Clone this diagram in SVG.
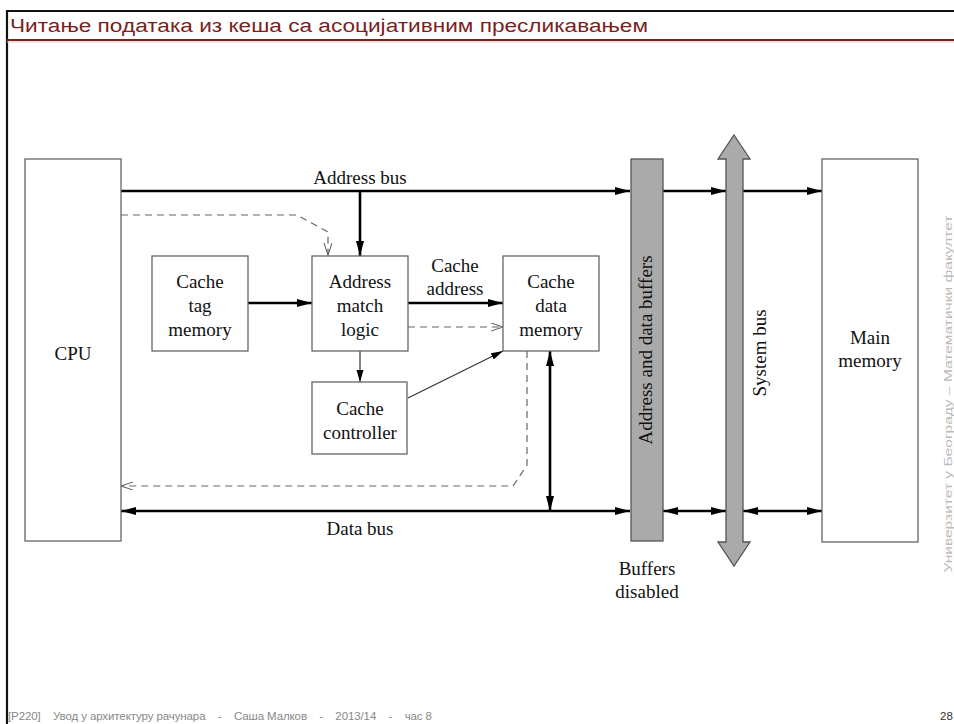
<svg xmlns="http://www.w3.org/2000/svg" width="954" height="724" viewBox="0 0 954 724">
<style>
.box{fill:#fff;stroke:#666;stroke-width:1.3}
.bar{fill:#aaa;stroke:#555;stroke-width:1.3}
.t{font-family:"Liberation Serif","Times New Roman",serif;font-size:19px;fill:#111;text-anchor:middle}
.thick{fill:none;stroke:#000;stroke-width:2.6}
.thin{fill:none;stroke:#333;stroke-width:1.2}
.dash{fill:none;stroke:#666;stroke-width:1.2;stroke-dasharray:7 5}
.hdr{font-family:"Liberation Sans","DejaVu Sans",sans-serif}
</style>
<defs>
<marker id="ah" markerUnits="userSpaceOnUse" markerWidth="16" markerHeight="10" refX="15" refY="4" orient="auto-start-reverse">
<path d="M0,0 L15,4 L0,8 z" fill="#000"/>
</marker>
<marker id="ahs" markerUnits="userSpaceOnUse" markerWidth="14" markerHeight="10" refX="12" refY="3.5" orient="auto">
<path d="M0,0 L12,3.5 L0,7 z" fill="#000"/>
</marker>
<marker id="ao" markerUnits="userSpaceOnUse" markerWidth="14" markerHeight="12" refX="12" refY="4" orient="auto">
<path d="M0,0 L12,4 L0,8" fill="none" stroke="#666" stroke-width="1.1"/>
</marker>
</defs>
<rect x="0" y="0" width="954" height="724" fill="#fff"/>
<g id="frame">
<path d="M7,724 V11 H954" fill="none" stroke="#111" stroke-width="2.2"/>
<line x1="7" y1="40" x2="954" y2="40" stroke="#7b1f1f" stroke-width="2"/>
<line x1="7" y1="42" x2="954" y2="42" stroke="#e8c8c8" stroke-width="1"/>
<text class="hdr" x="10" y="32" font-size="18" fill="#7b1f1f" textLength="638" lengthAdjust="spacingAndGlyphs">Читање података из кеша са асоцијативним пресликавањем</text>
<text class="hdr" x="8" y="720" font-size="11.5" fill="#888" textLength="424" lengthAdjust="spacing" xml:space="preserve">[P220]    Увод у архитектуру рачунара    -    Саша Малков    -    2013/14    -    час 8</text>
<text class="hdr" x="940" y="720" font-size="11.5" fill="#333">28</text>
<text class="hdr" transform="translate(952,394) rotate(-90)" font-size="11" fill="#bbb" text-anchor="middle" textLength="357" lengthAdjust="spacingAndGlyphs">Универзитет у Београду – Математички факултет</text>
</g>
<g id="connectors">
<line class="thick" x1="121" y1="191" x2="630" y2="191" marker-end="url(#ah)"/>
<line class="thick" x1="360" y1="191" x2="360" y2="256" marker-end="url(#ah)"/>
<line class="thick" x1="663" y1="191" x2="726" y2="191" marker-end="url(#ah)"/>
<line class="thick" x1="743" y1="191" x2="822" y2="191" marker-end="url(#ah)"/>
<line class="thick" x1="248" y1="303" x2="312" y2="303" marker-end="url(#ah)"/>
<line class="thick" x1="408" y1="303" x2="503" y2="303" marker-end="url(#ah)"/>
<line class="dash" x1="408" y1="327" x2="503" y2="327" marker-end="url(#ao)"/>
<path class="dash" d="M121,215 H297 L328,232 V255" marker-end="url(#ao)"/>
<line class="thin" x1="360" y1="351" x2="360" y2="382" marker-end="url(#ahs)"/>
<line class="thin" x1="408" y1="398" x2="503" y2="351" marker-end="url(#ahs)"/>
<path class="dash" d="M527,351 V465 L513,486 H121" marker-end="url(#ao)"/>
<line class="thick" x1="121" y1="511" x2="630" y2="511" marker-start="url(#ah)" marker-end="url(#ah)"/>
<line class="thick" x1="550" y1="351" x2="550" y2="511" marker-start="url(#ah)" marker-end="url(#ah)"/>
<line class="thick" x1="663" y1="511" x2="726" y2="511" marker-start="url(#ah)" marker-end="url(#ah)"/>
<line class="thick" x1="743" y1="511" x2="822" y2="511" marker-start="url(#ah)" marker-end="url(#ah)"/>
<text class="t" x="360" y="184">Address bus</text>
<text class="t" x="455" y="272">Cache</text>
<text class="t" x="455" y="295">address</text>
<text class="t" x="360" y="535">Data bus</text>
</g>
<g id="cpu">
<rect class="box" x="25" y="159" width="96" height="382"/>
<text class="t" x="73" y="360">CPU</text>
</g>
<g id="tag">
<rect class="box" x="152" y="256" width="96" height="95"/>
<text class="t" x="200" y="288">Cache</text>
<text class="t" x="200" y="312">tag</text>
<text class="t" x="200" y="336">memory</text>
</g>
<g id="match">
<rect class="box" x="312" y="256" width="96" height="95"/>
<text class="t" x="360" y="288">Address</text>
<text class="t" x="360" y="312">match</text>
<text class="t" x="360" y="336">logic</text>
</g>
<g id="data">
<rect class="box" x="503" y="256" width="96" height="95"/>
<text class="t" x="551" y="288">Cache</text>
<text class="t" x="551" y="312">data</text>
<text class="t" x="551" y="336">memory</text>
</g>
<g id="controller">
<rect class="box" x="312" y="382" width="95" height="72"/>
<text class="t" x="360" y="415">Cache</text>
<text class="t" x="360" y="439">controller</text>
</g>
<g id="buffers">
<rect class="bar" x="631" y="159" width="32" height="382"/>
<text class="t" transform="translate(652,350) rotate(-90)">Address and data buffers</text>
<text class="t" x="647" y="575">Buffers</text>
<text class="t" x="647" y="598">disabled</text>
</g>
<g id="sysbus">
<polygon class="bar" points="734,135 750,159 743,159 743,542 750,542 734,566 718,542 726,542 726,159 718,159"/>
<text class="t" transform="translate(766,353) rotate(-90)">System bus</text>
</g>
<g id="main">
<rect class="box" x="822" y="159" width="96" height="383"/>
<text class="t" x="870" y="344">Main</text>
<text class="t" x="870" y="367">memory</text>
</g>
</svg>
